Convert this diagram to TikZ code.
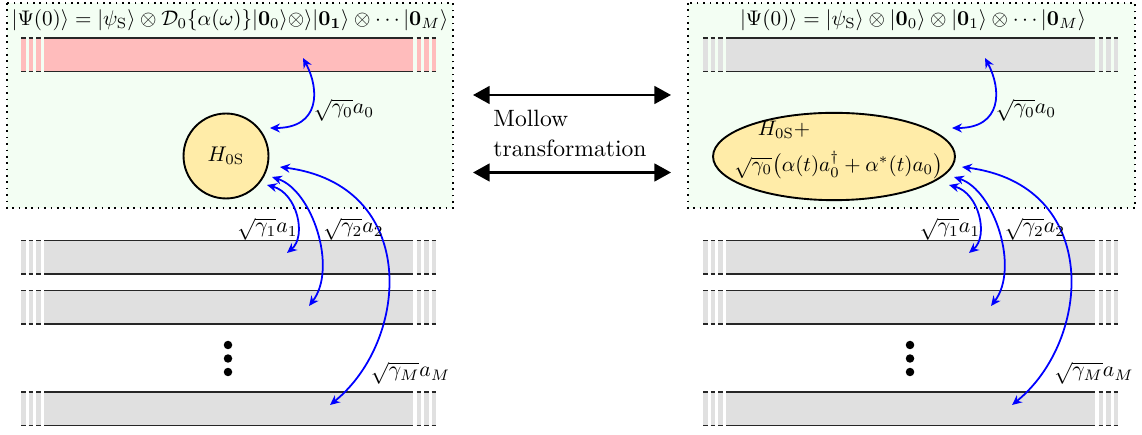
\documentclass[tikz,border=0pt]{standalone}
\usepackage{graphicx}
\usetikzlibrary{arrows.meta,shapes.geometric}
\definecolor{pinkfill}{RGB}{255,188,188}
\definecolor{grayfill}{RGB}{224,224,224}
\definecolor{boxfill}{RGB}{243,254,243}
\definecolor{yellowfill}{RGB}{255,236,168}
\newcommand\wguide[3]{%
  \fill[#3] (#1,#2) rectangle (#1+369,#2+33.5);
  \draw[edgeline] (#1,#2) -- (#1+369,#2);
  \draw[edgeline] (#1,#2+33.5) -- (#1+369,#2+33.5);
  \foreach \d in {-23,-15.5,-8,372.5,380,387.5} {
    \fill[#3] (#1+\d,#2) rectangle (#1+\d+4.5,#2+33.5);
    \draw[edgeline] (#1+\d,#2) -- (#1+\d+4.5,#2);
    \draw[edgeline] (#1+\d,#2+33.5) -- (#1+\d+4.5,#2+33.5);
  }%
}
\newcommand\tmath[1]{\scalebox{0.895}{$#1$}}
\newcommand\lmath[1]{\scalebox{0.92}{$#1$}}
\newcommand\emath[1]{\scalebox{0.89}{$#1$}}
\begin{document}
\begin{tikzpicture}[x=0.4237pt,y=-0.4237pt,
  edgeline/.style={line width=0.6pt,black!85},
  panelbox/.style={draw,dotted,line width=0.7pt,fill=boxfill},
  couple/.style={blue,line width=0.75pt,{Stealth[length=4.2pt,width=3.8pt]}-{Stealth[length=4.2pt,width=3.8pt]}},
  bigarrow/.style={line width=0.9pt,{Triangle[length=7pt,width=7.5pt]}-{Triangle[length=7pt,width=7.5pt]}},
  circst/.style={circle,draw,line width=0.8pt,fill=yellowfill,minimum size=36pt,inner sep=0pt},
  ellst/.style={ellipse,draw,line width=0.8pt,fill=yellowfill,minimum width=102.5pt,minimum height=37pt,inner sep=0pt},
  lbl/.style={inner sep=0pt},
  dotst/.style={circle,fill=black,inner sep=0pt,minimum size=3.6pt}]
\useasboundingbox (0,0) rectangle (1142,435);

% ---------------- left panel ----------------
\draw[panelbox] (7,3) rectangle (453,208);
\node[lbl] (titleL) at (230,20) {\tmath{|\Psi(0)\rangle = |\psi_{\mathrm{S}}\rangle\otimes\mathcal{D}_0\{\alpha(\omega)\}|\mathbf{0}_0\rangle{\otimes}\rangle|\mathbf{0_1}\rangle\otimes\cdots|\mathbf{0}_M\rangle}};
\wguide{44}{38}{pinkfill}
\wguide{44}{240.5}{grayfill}
\wguide{44}{290.5}{grayfill}
\wguide{44}{392}{grayfill}
\node[circst] (hL) at (226,156) {\scalebox{0.9}{$H_{0\mathrm{S}}$}};
\node[dotst] (dLa) at (228,345) {};
\node[dotst] (dLb) at (228,358.5) {};
\node[dotst] (dLc) at (228,372) {};

\coordinate (a0Lt) at (303,58);
\coordinate (a0Lb) at (270,128);
\coordinate (g1Ls) at (267,185);
\coordinate (g1Le) at (287,253);
\coordinate (g2Ls) at (272,177);
\coordinate (g2Le) at (309,306);
\coordinate (gMLs) at (280,167);
\coordinate (gMLe) at (330,405);
\draw[couple] (a0Lt) .. controls (320,90) and (320,128) .. (a0Lb);
\draw[couple] (g1Ls) .. controls (297,193) and (307,236) .. (g1Le);
\draw[couple] (g2Ls) .. controls (312,190) and (338,268) .. (g2Le);
\draw[couple] (gMLs) .. controls (420,185) and (410,340) .. (gMLe);
\node[lbl] (la0L) at (344,110) {\lmath{\sqrt{\gamma_0}a_0}};
\node[lbl] (lg1L) at (267.5,229) {\lmath{\sqrt{\gamma_1}a_1}};
\node[lbl] (lg2L) at (353.5,229) {\lmath{\sqrt{\gamma_2}a_2}};
\node[lbl] (lgML) at (410.5,373) {\lmath{\sqrt{\gamma_M}a_M}};

% ---------------- middle ----------------
\coordinate (mA1) at (473,95);
\coordinate (mA2) at (671,95);
\coordinate (mB1) at (473,172.5);
\coordinate (mB2) at (671,172.5);
\draw[bigarrow] (mA1) -- (mA2);
\draw[bigarrow] (mB1) -- (mB2);
\node[lbl,anchor=base west] (mol) at (493,127) {Mollow};
\node[lbl,anchor=base west] (trf) at (493,157) {transformation};

% ---------------- right panel ----------------
\draw[panelbox] (688,3) rectangle (1135,208);
\node[lbl] (titleR) at (913,20) {\tmath{|\Psi(0)\rangle = |\psi_{\mathrm{S}}\rangle\otimes|\mathbf{0}_0\rangle\otimes|\mathbf{0}_1\rangle\otimes\cdots|\mathbf{0}_M\rangle}};
\wguide{726}{38}{grayfill}
\wguide{726}{240.5}{grayfill}
\wguide{726}{290.5}{grayfill}
\wguide{726}{392}{grayfill}
\node[ellst] (hR) at (834,156.5) {};
\node[lbl] (hRa) at (784,130) {\emath{H_{0\mathrm{S}}+}};
\node[lbl] (hRb) at (838.5,165) {\emath{\sqrt{\gamma_0}\big(\alpha(t)a_0^\dagger+\alpha^*(t)a_0\big)}};
\node[dotst] (dRa) at (910,345) {};
\node[dotst] (dRb) at (910,358.5) {};
\node[dotst] (dRc) at (910,372) {};

\coordinate (a0Rt) at (985,58);
\coordinate (a0Rb) at (952,128);
\coordinate (g1Rs) at (949,185);
\coordinate (g1Re) at (969,253);
\coordinate (g2Rs) at (954,177);
\coordinate (g2Re) at (991,306);
\coordinate (gMRs) at (962,167);
\coordinate (gMRe) at (1012,405);
\draw[couple] (a0Rt) .. controls (1002,90) and (1002,128) .. (a0Rb);
\draw[couple] (g1Rs) .. controls (979,193) and (989,236) .. (g1Re);
\draw[couple] (g2Rs) .. controls (994,190) and (1020,268) .. (g2Re);
\draw[couple] (gMRs) .. controls (1102,185) and (1092,340) .. (gMRe);
\node[lbl] (la0R) at (1026,110) {\lmath{\sqrt{\gamma_0}a_0}};
\node[lbl] (lg1R) at (950,229) {\lmath{\sqrt{\gamma_1}a_1}};
\node[lbl] (lg2R) at (1035,229) {\lmath{\sqrt{\gamma_2}a_2}};
\node[lbl] (lgMR) at (1094,373) {\lmath{\sqrt{\gamma_M}a_M}};
\end{tikzpicture}
\end{document}
